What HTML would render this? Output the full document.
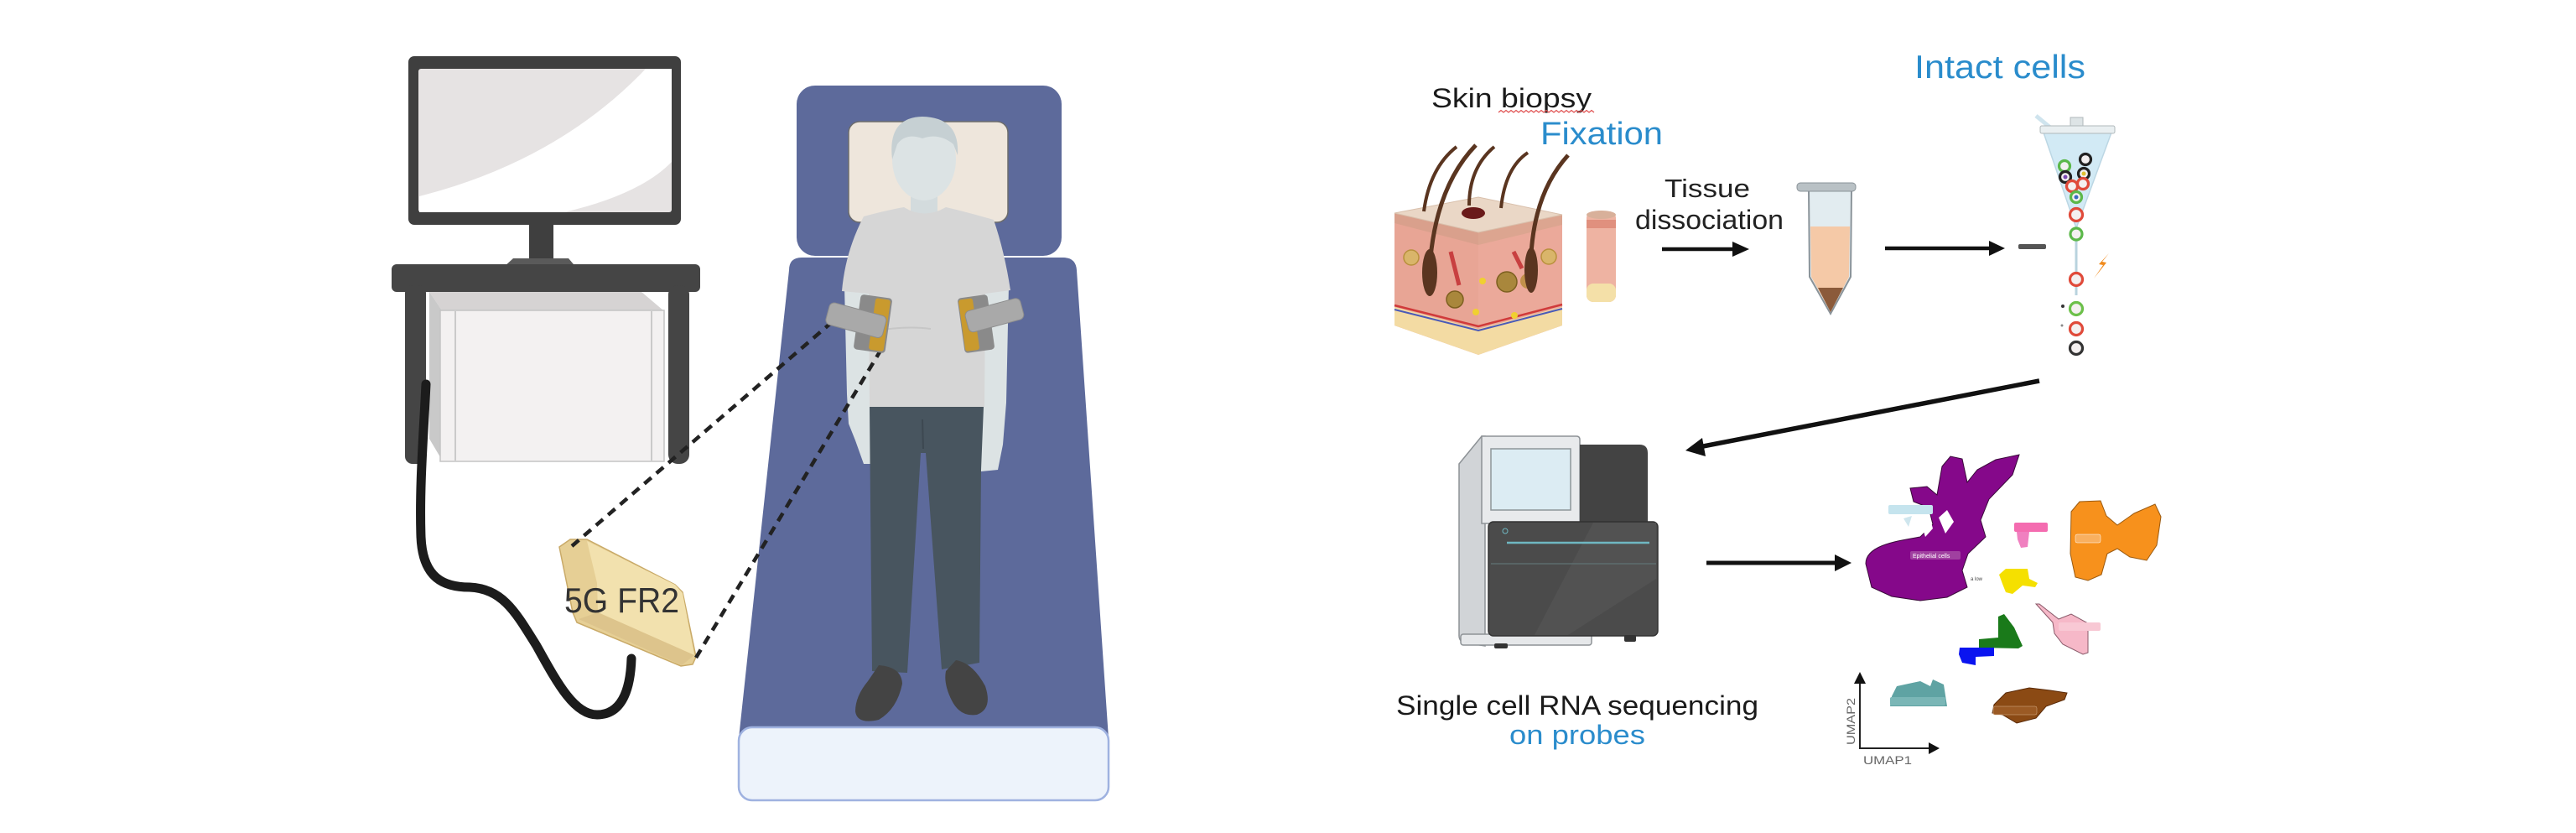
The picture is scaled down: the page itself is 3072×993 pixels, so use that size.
<!DOCTYPE html>
<html>
<head>
<meta charset="utf-8">
<style>
html,body{margin:0;padding:0;background:#fff;}
body{width:3072px;height:993px;overflow:hidden;}
svg{display:block;}
text{font-family:"Liberation Sans",Arial,sans-serif;}
</style>
</head>
<body>
<svg width="3072" height="993" viewBox="0 0 3072 993" xmlns="http://www.w3.org/2000/svg">
<defs>
  <linearGradient id="laser" x1="0" x2="1" y1="0" y2="0">
    <stop offset="0" stop-color="#e0307e"/>
    <stop offset="0.6" stop-color="#e84a60"/>
    <stop offset="1" stop-color="#f4a070" stop-opacity="0.2"/>
  </linearGradient>
</defs>
<rect width="3072" height="993" fill="#fff"/>

<!-- ============ LEFT: monitor / table ============ -->
<!-- monitor -->
<rect x="487" y="67" width="325" height="201" rx="7" fill="#3f3f3f"/>
<rect x="499" y="82" width="302" height="171" rx="3" fill="#e6e3e3"/>
<path d="M500,234 Q665,192 770,82 L801,82 L801,193 Q763,232 673,253 L500,253 Z" fill="#ffffff"/>
<rect x="631" y="266" width="29" height="44" fill="#3f3f3f"/>
<path d="M612,308 L678,308 L695,328 L590,328 Z" fill="#5a5a5a"/>
<!-- table -->
<rect x="467" y="315" width="368" height="33" rx="6" fill="#454545"/>
<rect x="483" y="340" width="25" height="213" rx="9" fill="#454545"/>
<rect x="797" y="340" width="25" height="213" rx="11" fill="#454545"/>
<!-- box under table -->
<path d="M512,348 L765,348 L791,370 L527,370 Z" fill="#d6d3d3"/>
<path d="M512,348 L527,370 L528,550 L512,523 Z" fill="#c9c9c9"/>
<rect x="525" y="370" width="267" height="180" fill="#f3f1f1" stroke="#c4c4c4" stroke-width="1.5"/>
<line x1="543" y1="371" x2="543" y2="549" stroke="#bdbdbd" stroke-width="1.5"/>
<line x1="777" y1="371" x2="777" y2="549" stroke="#bdbdbd" stroke-width="1.5"/>
<!-- cable -->
<path d="M508,458 C505,520 500,580 502,640 C504,690 530,700 560,700 C600,702 615,730 640,770 C665,815 685,852 712,852 C745,852 752,815 753,785" fill="none" stroke="#1c1c1c" stroke-width="11" stroke-linecap="round"/>

<!-- 5G FR2 device -->
<polygon points="667,652 680,643 700,643 805,697 814,706 830,783 826,792 812,794 688,742 683,730" fill="#e6cf95" stroke="#c9aa68" stroke-width="1.5"/>
<polygon points="700,645 805,697 814,707 828,781 713,730 712,695" fill="#f2e1ae"/>
<polygon points="690,738 713,730 828,781 813,793" fill="#ddc48c"/>
<text x="673" y="730" font-size="42" fill="#333" textLength="137" lengthAdjust="spacingAndGlyphs">5G FR2</text>

<!-- ============ BED ============ -->
<rect x="950" y="102" width="316" height="203" rx="22" fill="#5d6a9b"/>
<path d="M941,322 Q941,307 956,307 L1268,307 Q1283,307 1284,322 L1322,880 L881,880 Z" fill="#5d6a9b"/>
<rect x="881" y="867" width="441" height="87" rx="16" fill="#edf3fb" stroke="#9fb2e0" stroke-width="2.5"/>
<!-- pillow -->
<rect x="1012" y="145" width="190" height="120" rx="13" fill="#eee6dc" stroke="#6c6c6c" stroke-width="1.5"/>

<!-- ============ PERSON ============ -->
<!-- arms -->
<path d="M1007,340 L1038,340 L1040,470 L1045,510 L1043,553 L1030,553 L1020,525 L1012,505 L1010,470 Z" fill="#dce3e4"/>
<path d="M1173,340 L1203,340 L1200,480 L1196,530 L1190,560 L1170,562 L1162,540 L1168,500 L1172,480 Z" fill="#dce3e4"/>
<!-- neck & head -->
<rect x="1086" y="225" width="32" height="35" fill="#d3dbdd"/>
<ellipse cx="1102" cy="190" rx="38" ry="49" fill="#dce3e4"/>
<path d="M1064,190 Q1058,140 1100,139 Q1145,140 1142,185 L1137,172 Q1120,158 1100,165 Q1080,158 1070,172 Z" fill="#c6d0d3"/>
<!-- shirt -->
<path d="M1030,258 Q1060,250 1078,247 Q1102,262 1128,247 Q1150,252 1185,262 Q1198,300 1205,346 L1175,350 L1174,485 L1037,485 L1036,350 L1004,347 Q1008,300 1030,258 Z" fill="#d6d6d6"/>
<path d="M1040,395 Q1080,388 1110,392" stroke="#c6c6c6" stroke-width="2" fill="none"/>
<!-- pants -->
<path d="M1037,485 L1173,485 L1170,560 L1168,790 L1123,798 L1104,540 L1098,540 L1082,802 L1040,800 L1038,600 Z" fill="#48555f"/>
<line x1="1100" y1="500" x2="1101" y2="535" stroke="#3d4851" stroke-width="2"/>
<!-- shoes -->
<path d="M1048,793 Q1075,795 1076,815 Q1070,845 1048,858 Q1022,864 1020,848 Q1020,830 1035,812 Z" fill="#444"/>
<path d="M1140,787 Q1160,790 1175,818 Q1184,845 1165,852 Q1145,855 1135,835 Q1125,815 1128,800 Z" fill="#444"/>

<!-- dashed lines -->
<line x1="682" y1="651" x2="1006" y2="372" stroke="#222" stroke-width="4.5" stroke-dasharray="11 8"/>
<line x1="830" y1="784" x2="1050" y2="418" stroke="#222" stroke-width="4.5" stroke-dasharray="11 8"/>

<!-- arm devices -->
<g transform="rotate(8 1041 386)">
  <rect x="1022" y="353" width="38" height="66" rx="4" fill="#8a8a8a"/>
  <rect x="1040" y="355" width="18" height="62" rx="3" fill="#c99a2e"/>
</g>
<g transform="rotate(15 1020 381)">
  <rect x="986" y="368" width="70" height="27" rx="6" fill="#a9a9a9" stroke="#8d8d8d" stroke-width="1"/>
</g>
<g transform="rotate(-8 1164 386)">
  <rect x="1146" y="353" width="36" height="66" rx="4" fill="#8a8a8a"/>
  <rect x="1147" y="355" width="17" height="62" rx="3" fill="#c99a2e"/>
</g>
<g transform="rotate(-15 1185 376)">
  <rect x="1152" y="363" width="68" height="26" rx="6" fill="#a9a9a9" stroke="#8d8d8d" stroke-width="1"/>
</g>

<!-- ============ RIGHT: workflow ============ -->
<!-- texts -->
<text x="1707" y="128" font-size="32" fill="#1a1a1a" textLength="191" lengthAdjust="spacingAndGlyphs">Skin biopsy</text>
<polyline points="1787,134 1790,131.5 1793,134 1796,131.5 1799,134 1802,131.5 1805,134 1808,131.5 1811,134 1814,131.5 1817,134 1820,131.5 1823,134 1826,131.5 1829,134 1832,131.5 1835,134 1838,131.5 1841,134 1844,131.5 1847,134 1850,131.5 1853,134 1856,131.5 1859,134 1862,131.5 1865,134 1868,131.5 1871,134 1874,131.5 1877,134 1880,131.5 1883,134 1886,131.5 1889,134 1892,131.5 1895,134 1898,131.5 1901,134" fill="none" stroke="#e05050" stroke-width="1.2"/>
<text x="1837" y="172" font-size="38" fill="#2a8ccc" textLength="146" lengthAdjust="spacingAndGlyphs">Fixation</text>
<text x="2283" y="93" font-size="39" fill="#2a8ccc" textLength="204" lengthAdjust="spacingAndGlyphs">Intact cells</text>
<text x="1985" y="235" font-size="31" fill="#222" textLength="102" lengthAdjust="spacingAndGlyphs">Tissue</text>
<text x="1950" y="273" font-size="32" fill="#222" textLength="177" lengthAdjust="spacingAndGlyphs">dissociation</text>

<!-- skin block -->
<polygon points="1663,254 1763,277 1763,423 1663,388" fill="#e8a595"/>
<polygon points="1763,277 1863,256 1863,388 1763,423" fill="#eba99a"/>
<polygon points="1663,366 1763,392 1763,423 1663,388" fill="#f3dba3"/>
<polygon points="1763,392 1863,366 1863,388 1763,423" fill="#f3dba3"/>
<polyline points="1663,364 1763,389 1863,363" fill="none" stroke="#d03a3a" stroke-width="2.5"/>
<polyline points="1663,369 1763,394 1863,368" fill="none" stroke="#4a5ab8" stroke-width="2"/>
<polygon points="1663,254 1763,277 1763,292 1663,266" fill="#d9a08c"/>
<polygon points="1763,277 1863,256 1863,268 1763,292" fill="#dca590"/>
<polygon points="1663,254 1763,235 1863,256 1763,277" fill="#ead7c6" stroke="#d9c0ac" stroke-width="1"/>
<!-- glands -->
<circle cx="1683" cy="307" r="9" fill="#d9b56a" stroke="#b8903c" stroke-width="1.5"/>
<circle cx="1735" cy="357" r="10" fill="#a9873c" stroke="#7d6020" stroke-width="1.5"/>
<circle cx="1797" cy="336" r="12" fill="#a9873c" stroke="#7d6020" stroke-width="1.5"/>
<circle cx="1822" cy="335" r="9" fill="#c0904a"/>
<circle cx="1847" cy="306" r="9" fill="#d9b56a" stroke="#b8903c" stroke-width="1.5"/>
<circle cx="1768" cy="335" r="4" fill="#f0d030"/>
<circle cx="1760" cy="372" r="4" fill="#f0d030"/>
<circle cx="1806" cy="376" r="4" fill="#f0d030"/>
<path d="M1730,300 L1740,340" stroke="#c84040" stroke-width="5"/>
<path d="M1805,300 L1815,320" stroke="#c84040" stroke-width="5"/>
<!-- hairs -->
<ellipse cx="1705" cy="325" rx="9" ry="28" fill="#5a3520"/>
<ellipse cx="1826" cy="322" rx="8" ry="27" fill="#5a3520"/>
<path d="M1698,252 Q1705,200 1737,175" fill="none" stroke="#5a3520" stroke-width="4"/>
<path d="M1704,345 Q1705,230 1760,173" fill="none" stroke="#5a3520" stroke-width="5"/>
<path d="M1752,245 Q1752,200 1782,175" fill="none" stroke="#5a3520" stroke-width="4"/>
<path d="M1790,248 Q1795,200 1822,182" fill="none" stroke="#5a3520" stroke-width="4"/>
<path d="M1826,345 Q1820,240 1870,185" fill="none" stroke="#5a3520" stroke-width="5"/>
<ellipse cx="1757" cy="254" rx="14" ry="7" fill="#6a1a1a"/>
<!-- core -->
<rect x="1892" y="252" width="35" height="108" rx="8" fill="#eeb3a2"/>
<rect x="1892" y="338" width="35" height="22" rx="8" fill="#f4e0a8"/>
<rect x="1892" y="262" width="35" height="10" fill="#e0907e"/>
<ellipse cx="1909.5" cy="256" rx="17.5" ry="5" fill="#d8b09a"/>

<!-- arrow 1 -->
<line x1="1982" y1="297" x2="2070" y2="297" stroke="#111" stroke-width="4.5"/>
<polygon points="2066,288 2086,297 2066,306" fill="#111"/>

<!-- tube -->
<path d="M2157,226 L2208,226 L2207,330 L2183,374 L2158,330 Z" fill="#e2ecf0" stroke="#8a9399" stroke-width="2"/>
<path d="M2159,270 L2206,270 L2205,330 L2183,372 L2160,330 Z" fill="#f5c9a7"/>
<path d="M2168,343 L2198,343 L2183,372 Z" fill="#8b5a3a"/>
<rect x="2143" y="218" width="70" height="10" rx="4" fill="#b9c1c5" stroke="#8a9399" stroke-width="1"/>

<!-- arrow 2 -->
<line x1="2248" y1="296" x2="2376" y2="296" stroke="#111" stroke-width="4.5"/>
<polygon points="2372,287 2391,296 2372,305" fill="#111"/>

<!-- sorter funnel -->
<path d="M2428,138 L2445,152" stroke="#cfe4ee" stroke-width="5"/>
<rect x="2469" y="140" width="15" height="13" fill="#dde4e6" stroke="#b0b8bb" stroke-width="1"/>
<polygon points="2437,158 2518,158 2476,272" fill="#d2eaf5" stroke="#bcd7e4" stroke-width="1.5"/>
<rect x="2433" y="150" width="89" height="9" rx="2" fill="#e9eff1" stroke="#b0b8bb" stroke-width="1"/>
<line x1="2476" y1="272" x2="2476" y2="352" stroke="#b9d3de" stroke-width="3"/>
<g fill="#f4f0f0" stroke-width="3.2">
  <circle cx="2487" cy="190" r="6.5" stroke="#222"/>
  <circle cx="2462" cy="198" r="6.5" stroke="#5cb84a"/>
  <circle cx="2463" cy="211" r="6.5" stroke="#222"/>
  <circle cx="2485" cy="207" r="6.5" stroke="#222"/>
  <circle cx="2471" cy="222" r="6.5" stroke="#e04a3a"/>
  <circle cx="2484" cy="219" r="6.5" stroke="#e04a3a"/>
  <circle cx="2476" cy="235" r="6.5" stroke="#5cb84a"/>
  <circle cx="2476" cy="256" r="7.5" stroke="#e04a3a"/>
  <circle cx="2476" cy="279" r="7" stroke="#5cb84a"/>
  <circle cx="2476" cy="333" r="7.5" stroke="#e04a3a"/>
  <circle cx="2476" cy="368" r="7.5" stroke="#6cc04a"/>
  <circle cx="2476" cy="392" r="7.5" stroke="#e04a3a"/>
  <circle cx="2476" cy="415" r="7.5" stroke="#333"/>
</g>
<circle cx="2463" cy="211" r="2.5" fill="#7a4ab0"/>
<circle cx="2485" cy="207" r="2.5" fill="#e0c030"/>
<circle cx="2476" cy="235" r="2.5" fill="#3a6ac0"/>
<circle cx="2460" cy="365" r="2" fill="#333"/>
<circle cx="2459" cy="388" r="1.5" fill="#888"/>
<rect x="2407" y="291" width="33" height="6" rx="2" fill="#555"/>
<line x1="2447" y1="295" x2="2515" y2="295" stroke="url(#laser)" stroke-width="3"/>
<path d="M2515,302 L2503,315 L2508,316 L2497,332 L2512,313 L2507,312 Z" fill="#f08a1c"/>

<!-- diagonal arrow -->
<line x1="2432" y1="454" x2="2026" y2="533" stroke="#111" stroke-width="5.5"/>
<polygon points="2010,537 2030,522 2034,544" fill="#111"/>

<!-- sequencer -->
<path d="M1740,553 L1767,520 L1771,520 L1771,770 L1746,766 Q1740,764 1740,758 Z" fill="#d1d4d7" stroke="#8d9296" stroke-width="1.5"/>
<path d="M1767,520 L1880,520 Q1884,520 1884,524 L1884,624 L1767,624 Z" fill="#e8eaec" stroke="#8d9296" stroke-width="1.5"/>
<rect x="1778" y="535" width="95" height="73" fill="#dcecf3" stroke="#8e969a" stroke-width="1.5"/>
<path d="M1884,530 L1955,530 Q1965,530 1965,540 L1965,624 L1884,624 Z" fill="#434343"/>
<rect x="1742" y="756" width="156" height="13" rx="3" fill="#e6e8ea" stroke="#8d9296" stroke-width="1.5"/>
<rect x="1775" y="622" width="202" height="136" rx="6" fill="#4b4b4b" stroke="#333" stroke-width="1.5"/>
<polygon points="1900,623 1975,623 1975,690 1870,757 1830,757" fill="#525252"/>
<line x1="1797" y1="647" x2="1967" y2="647" stroke="#6fb7c2" stroke-width="2.5"/>
<line x1="1778" y1="672" x2="1975" y2="672" stroke="#5d6c6e" stroke-width="1.5"/>
<circle cx="1795" cy="633" r="3" fill="none" stroke="#6fb7c2" stroke-width="1"/>
<rect x="1782" y="767" width="16" height="6" rx="2" fill="#333"/>
<rect x="1937" y="757" width="14" height="8" rx="2" fill="#333"/>

<text x="1665" y="852" font-size="32" fill="#1a1a1a" textLength="432" lengthAdjust="spacingAndGlyphs">Single cell RNA sequencing</text>
<text x="1800" y="887" font-size="32" fill="#2a8ccc" textLength="162" lengthAdjust="spacingAndGlyphs">on probes</text>

<!-- arrow 3 -->
<line x1="2035" y1="671" x2="2192" y2="671" stroke="#111" stroke-width="5"/>
<polygon points="2188,661 2208,671 2188,681" fill="#111"/>

<!-- UMAP clusters -->
<path d="M2225,672 C2225,650 2262,645 2290,640 L2305,625 L2300,605 L2282,598 L2278,582 L2298,580 L2310,590 L2316,556 L2326,544 L2340,547 L2346,575 L2358,560 L2380,548 L2408,542 L2400,566 L2372,595 L2362,620 L2368,640 L2347,660 L2340,680 L2346,700 L2322,712 L2290,716 L2256,711 L2232,700 Z" fill="#85088a" stroke="#3a0a3a" stroke-width="1"/>
<polygon points="2290,620 2300,612 2305,630 2296,640" fill="#fff"/>
<polygon points="2312,617 2322,608 2330,622 2320,636" fill="#fff"/>
<polygon points="2270,618 2280,615 2276,628" fill="#cfe6ee"/>
<rect x="2252" y="602" width="53" height="11" rx="2" fill="#c5e4ee"/>
<rect x="2278" y="657" width="60" height="10" rx="2" fill="#a040a0"/>
<text x="2281" y="665" font-size="7" fill="#fff">Epithelial cells</text>
<path d="M2470,610 L2480,598 L2505,597 L2512,615 L2525,626 L2545,612 L2570,601 L2577,616 L2572,650 L2560,668 L2540,664 L2525,654 L2513,660 L2506,685 L2490,692 L2475,688 L2469,660 Z" fill="#f7911c" stroke="#9a5a10" stroke-width="1"/>
<rect x="2475" y="637" width="30" height="10" rx="2" fill="#f9b060" stroke="#fff" stroke-width="0.5"/>
<rect x="2402" y="623" width="40" height="11" rx="2" fill="#f46cb0"/>
<path d="M2405,634 L2420,634 L2418,652 L2410,653 L2406,643 Z" fill="#f080c0"/>
<path d="M2384,685 L2392,678 L2418,678 L2420,690 L2430,695 L2427,700 L2412,698 L2400,708 L2392,706 L2388,696 Z" fill="#f5e000"/>
<text x="2350" y="692" font-size="6" fill="#444">a low</text>
<path d="M2428,720 L2432,720 L2455,738 L2470,732 L2490,743 L2490,778 L2484,780 L2460,768 L2450,755 L2448,742 Z" fill="#f6b8c8" stroke="#8a5a6a" stroke-width="1"/>
<rect x="2455" y="742" width="50" height="10" rx="2" fill="#f8c8d4"/>
<path d="M2383,735 L2390,732 L2402,748 L2412,770 L2407,773 L2360,772 L2360,762 L2383,760 Z" fill="#1a7a1a"/>
<path d="M2337,772 L2378,772 L2378,782 L2356,783 L2356,793 L2340,790 L2336,780 Z" fill="#0a14f0"/>
<path d="M2256,830 L2262,818 L2290,812 L2302,818 L2305,810 L2318,816 L2322,842 L2254,842 Z" fill="#5fa3a3"/>
<rect x="2254" y="831" width="66" height="10" rx="2" fill="#7ab6b6"/>
<path d="M2378,840 L2392,826 L2420,820 L2445,823 L2465,826 L2462,834 L2440,842 L2428,856 L2405,862 L2388,852 L2376,850 Z" fill="#8b4a14" stroke="#5a2a08" stroke-width="1"/>
<rect x="2377" y="842" width="52" height="10" rx="2" fill="#9b5a24" stroke="#d9b08a" stroke-width="0.5"/>
<!-- UMAP axes -->
<line x1="2218" y1="812" x2="2218" y2="892" stroke="#222" stroke-width="2"/>
<line x1="2217" y1="892" x2="2302" y2="892" stroke="#222" stroke-width="2"/>
<polygon points="2211,815 2218,801 2225,815" fill="#111"/>
<polygon points="2300,885 2313,892 2300,899" fill="#111"/>
<text x="2222" y="911" font-size="14" fill="#666" textLength="58" lengthAdjust="spacingAndGlyphs">UMAP1</text>
<text transform="translate(2212,888) rotate(-90)" font-size="14" fill="#666" textLength="56" lengthAdjust="spacingAndGlyphs">UMAP2</text>
</svg>
</body>
</html>
